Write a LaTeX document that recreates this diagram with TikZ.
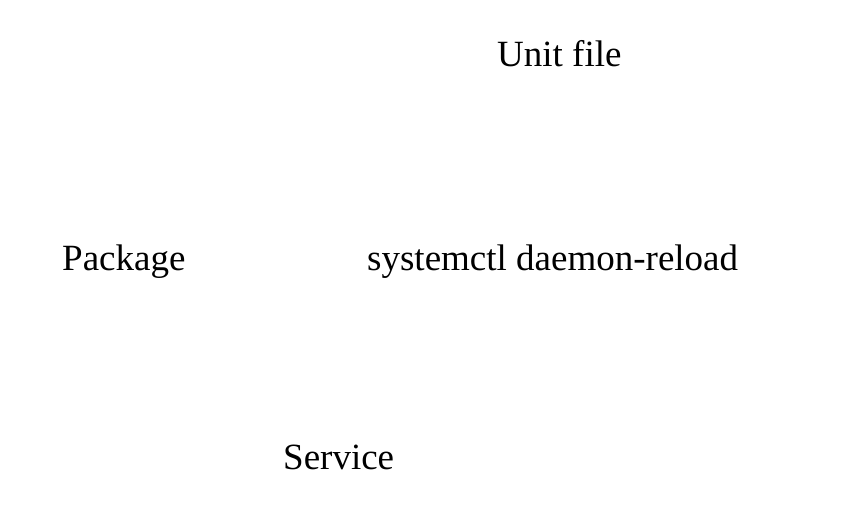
\documentclass[tikz,border=0pt]{standalone}
\usepackage{fontspec}
\setmainfont{Liberation Serif}
\begin{document}
\begin{tikzpicture}[x=1pt,y=-1pt,
  lbl/.style={anchor=base west,inner sep=0pt,font=\fontsize{37}{44}\selectfont,text=black}]
\useasboundingbox[fill=white] (0,0) rectangle (851,522);
\node[lbl] (unit) at (497,66) {Unit file};
\node[lbl] (pkg) at (62,270) {Package};
\node[lbl] (reload) at (367,270) {systemctl daemon-reload};
\node[lbl] (svc) at (283,469) {Service};
\end{tikzpicture}
\end{document}
